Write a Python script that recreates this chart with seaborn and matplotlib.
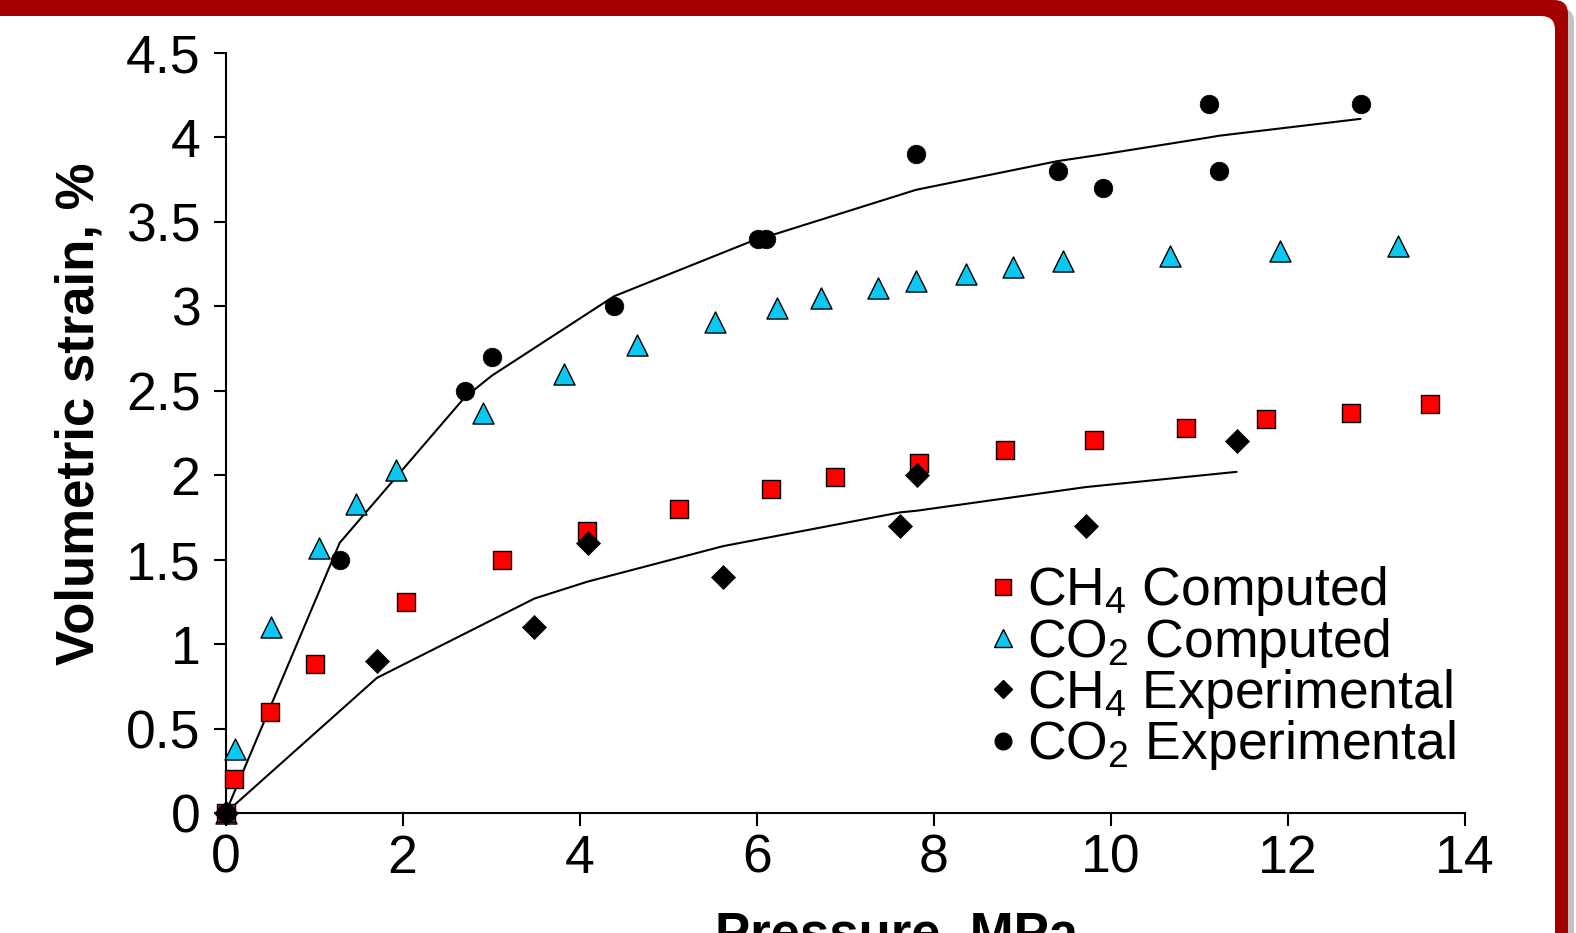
import matplotlib
matplotlib.use("Agg")
import matplotlib.pyplot as plt
import matplotlib.transforms as mtransforms
from matplotlib.patches import FancyBboxPatch
from matplotlib.lines import Line2D
import seaborn as sns

# --- data ---
ch4_comp_p = [0, 0.10, 0.50, 1.01, 2.04, 3.12, 4.08, 5.12, 6.16, 6.88, 7.83, 8.80, 9.81, 10.85, 11.75, 12.71, 13.60]
ch4_comp_v = [0, 0.20, 0.60, 0.88, 1.25, 1.50, 1.67, 1.80, 1.92, 1.99, 2.07, 2.15, 2.21, 2.28, 2.33, 2.37, 2.42]

co2_comp_p = [0, 0.11, 0.51, 1.06, 1.47, 1.93, 2.91, 3.82, 4.65, 5.53, 6.23, 6.73, 7.37, 7.80, 8.36, 8.90, 9.46, 10.67, 11.91, 13.24]
co2_comp_v = [0, 0.38, 1.10, 1.57, 1.83, 2.03, 2.37, 2.60, 2.77, 2.91, 2.99, 3.05, 3.11, 3.15, 3.19, 3.23, 3.27, 3.30, 3.33, 3.36]

ch4_exp_p = [0, 1.71, 3.49, 4.09, 5.62, 7.62, 7.81, 9.72, 11.42]
ch4_exp_v = [0, 0.90, 1.10, 1.60, 1.40, 1.70, 2.00, 1.70, 2.20]
ch4_fit_v = [0, 0.80, 1.27, 1.37, 1.58, 1.78, 1.79, 1.93, 2.02]

co2_exp_p = [0, 1.29, 2.70, 3.01, 4.39, 6.01, 6.10, 7.80, 9.40, 9.91, 11.11, 11.22, 12.82]
co2_exp_v = [0, 1.50, 2.50, 2.70, 3.00, 3.40, 3.40, 3.90, 3.80, 3.70, 4.20, 3.80, 4.20]
co2_fit_v = [0, 1.60, 2.46, 2.59, 3.06, 3.40, 3.41, 3.69, 3.86, 3.90, 4.00, 4.01, 4.11]

legend_labels = ["CH$_4$ Computed", "CO$_2$ Computed", "CH$_4$ Experimental", "CO$_2$ Experimental"]

sns.set_style("ticks")
plt.rcParams["font.family"] = ["Liberation Sans", "DejaVu Sans"]
plt.rcParams["mathtext.fontset"] = "custom"
plt.rcParams["mathtext.rm"] = "Liberation Sans"
plt.rcParams["mathtext.it"] = "Liberation Sans"
plt.rcParams["text.color"] = "black"
plt.rcParams["axes.labelcolor"] = "black"

W, H = 1576, 933
fig = plt.figure(figsize=(W / 100, H / 100), dpi=100)
fig.patch.set_facecolor("white")

# slide frame: dark red rounded border with a soft shadow
px = mtransforms.IdentityTransform()
fig.add_artist(FancyBboxPatch((-40, -40), 1574 + 40, H - 8 + 40, boxstyle="round,pad=0,rounding_size=14",
                              facecolor="#9a9a9a", edgecolor="none", alpha=0.6, transform=px, zorder=-3))
fig.add_artist(FancyBboxPatch((-40, -40), 1568 + 40, H + 40, boxstyle="round,pad=0,rounding_size=14",
                              facecolor="#A50000", edgecolor="none", transform=px, zorder=-2))
fig.add_artist(FancyBboxPatch((-40, -40), 1555 + 40, H - 16 + 40, boxstyle="round,pad=0,rounding_size=14",
                              facecolor="white", edgecolor="none", transform=px, zorder=-1))

ax = fig.add_axes([225.5 / W, 1 - 813 / H, (1465 - 225.5) / W, 760 / H])
ax.set_facecolor("none")

# fitted curves
sns.lineplot(x=co2_exp_p, y=co2_fit_v, sort=False, estimator=None, color="black", linewidth=1.5, ax=ax)
sns.lineplot(x=ch4_exp_p, y=ch4_fit_v, sort=False, estimator=None, color="black", linewidth=1.5, ax=ax)

sns.scatterplot(x=co2_comp_p, y=co2_comp_v, marker="^", s=230, color="#0AC8F2", edgecolor="black",
                linewidth=1.0, ax=ax, clip_on=False, zorder=3)
sns.scatterplot(x=ch4_comp_p, y=ch4_comp_v, marker="s", s=160, color="#FF0000", edgecolor="black",
                linewidth=1.0, ax=ax, clip_on=False, zorder=4)
sns.scatterplot(x=ch4_exp_p, y=ch4_exp_v, marker="D", s=150, color="black", edgecolor="black",
                linewidth=0.5, ax=ax, clip_on=False, zorder=5)
sns.scatterplot(x=co2_exp_p, y=co2_exp_v, marker="o", s=180, color="black", edgecolor="black",
                linewidth=0.5, ax=ax, clip_on=False, zorder=6)

ax.set_xlim(0, 14)
ax.set_ylim(0, 4.5)
ax.set_xticks(range(0, 15, 2))
yt = [i * 0.5 for i in range(10)]
ax.set_yticks(yt)
ax.set_yticklabels([f"{v:g}" for v in yt])
sns.despine(ax=ax)
for s in ["left", "bottom"]:
    ax.spines[s].set_linewidth(1.5)
    ax.spines[s].set_color("black")
ax.tick_params(axis="both", direction="out", length=9, width=1.5, labelsize=38.5, colors="black")
ax.tick_params(axis="x", pad=6)
ax.tick_params(axis="y", pad=9)

ax.set_ylabel("Volumetric strain, %", fontsize=38, fontweight="bold", color="black")
ax.yaxis.set_label_coords(-0.098, 0.525)
ax.set_xlabel("Pressure, MPa", fontsize=38, fontweight="bold", color="black")
ax.xaxis.set_label_coords(0.541, -0.128)

handles = [
    Line2D([], [], linestyle="none", marker="s", markersize=11, markerfacecolor="#FF0000", markeredgecolor="black", markeredgewidth=1.0),
    Line2D([], [], linestyle="none", marker="^", markersize=13, markerfacecolor="#0AC8F2", markeredgecolor="black", markeredgewidth=1.0),
    Line2D([], [], linestyle="none", marker="D", markersize=9, markerfacecolor="black", markeredgecolor="black"),
    Line2D([], [], linestyle="none", marker="o", markersize=12, markerfacecolor="black", markeredgecolor="black"),
]
ax.legend(handles, legend_labels, loc="upper left", bbox_to_anchor=(0.614, 0.327), frameon=False,
          fontsize=38.5, handlelength=0.6, handletextpad=0.15, labelspacing=-0.05, borderpad=0, borderaxespad=0,
          labelcolor="black")

fig.savefig("out.png", dpi=100)
